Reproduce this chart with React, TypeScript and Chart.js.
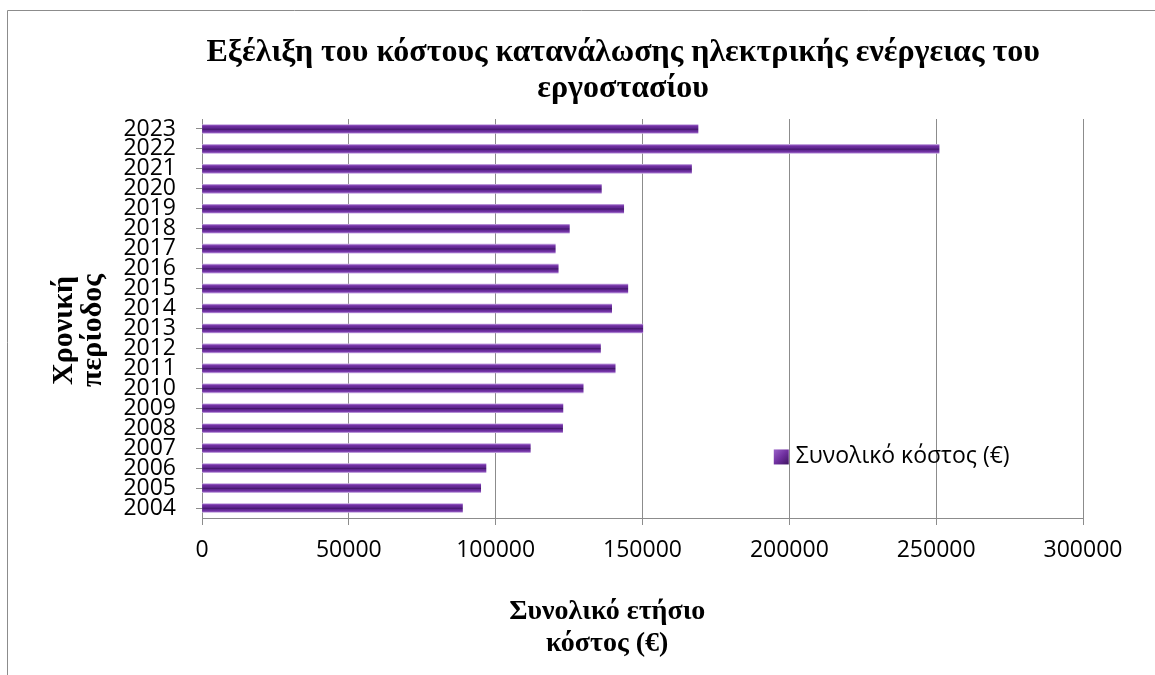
import React, { useEffect, useRef } from 'react';
import { Chart, registerables } from 'chart.js';

Chart.register(...registerables);

// ---- Data ----
const years = ['2004', '2005', '2006', '2007', '2008', '2009', '2010', '2011', '2012', '2013', '2014', '2015', '2016', '2017', '2018', '2019', '2020', '2021', '2022', '2023'];
const costs = [88700, 94900, 96700, 111800, 122800, 122900, 129800, 140700, 135700, 150100, 139500, 145000, 121300, 120300, 125100, 143600, 136000, 166700, 251000, 168900];
const seriesLabel = 'Συνολικό κόστος (€)';
const titleLines = ['Εξέλιξη του κόστους κατανάλωσης ηλεκτρικής ενέργειας του', 'εργοστασίου'];
const yTitleLines = ['Χρονική', 'περίοδος'];
const xTitleLines = ['Συνολικό ετήσιο', 'κόστος (€)'];
const xMin = 0;
const xMax = 300000;
const xStep = 50000;

const SERIF = '"Liberation Serif", "Times New Roman", serif';
const SANS = '"Open Sans", "Noto Sans", sans-serif';
const GRID = '#8c8c8c';

function makeBarGradient(c: CanvasRenderingContext2D, y0: number, y1: number) {
  const g = c.createLinearGradient(0, y0, 0, y1);
  g.addColorStop(0, '#c6aadf');
  g.addColorStop(0.1, '#8a4ebb');
  g.addColorStop(0.2, '#7030a0');
  g.addColorStop(0.42, '#5e2690');
  g.addColorStop(0.52, '#44166a');
  g.addColorStop(0.66, '#602892');
  g.addColorStop(0.85, '#7636a8');
  g.addColorStop(0.93, '#9a68c6');
  g.addColorStop(1, '#c6aadf');
  return g;
}

const decorPlugin = {
  id: 'decor',
  afterDraw(chart: any) {
    const c: CanvasRenderingContext2D = chart.ctx;
    const ca = chart.chartArea;
    const W = ca.right - ca.left;
    const H = ca.bottom - ca.top;
    c.save();
    // outer frame
    c.strokeStyle = GRID;
    c.lineWidth = 1;
    c.beginPath();
    c.moveTo(7.5, chart.height);
    c.lineTo(7.5, 10.5);
    c.lineTo(chart.width, 10.5);
    c.stroke();

    // main title
    c.fillStyle = '#000';
    c.font = `bold 32px ${SERIF}`;
    c.textAlign = 'center';
    c.textBaseline = 'alphabetic';
    const tx = ca.left + 0.478 * W;
    c.fillText(titleLines[0], tx, 61);
    c.fillText(titleLines[1], tx, 97);

    // y axis title (rotated)
    c.save();
    c.translate(0, ca.top + 0.53 * H);
    c.rotate(-Math.PI / 2);
    c.font = `bold 30px ${SERIF}`;
    c.textAlign = 'center';
    c.fillText(yTitleLines[0], 0, 72);
    c.fillText(yTitleLines[1], 0, 101);
    c.restore();

    // x axis title
    c.font = `bold 28px ${SERIF}`;
    c.textAlign = 'center';
    const xx = ca.left + 0.46 * W;
    c.fillText(xTitleLines[0], xx, ca.bottom + 101);
    c.fillText(xTitleLines[1], xx, ca.bottom + 133);

    // legend (inside plot area)
    const mx = ca.left + 0.649 * W;
    const my = ca.top + 0.847 * H;
    const sz = 15;
    const lg = c.createLinearGradient(mx, my - sz / 2, mx + sz, my + sz / 2);
    lg.addColorStop(0, '#9a62c8');
    lg.addColorStop(0.5, '#7030a0');
    lg.addColorStop(1, '#3e1460');
    c.fillStyle = lg;
    c.fillRect(mx, my - sz / 2, sz, sz);
    c.fillStyle = '#000';
    c.font = `23px ${SANS}`;
    c.textAlign = 'left';
    c.textBaseline = 'middle';
    c.fillText(seriesLabel, mx + sz + 7, my);
    c.restore();
  },
};

export default function App() {
  const ref = useRef<HTMLCanvasElement | null>(null);

  useEffect(() => {
    if (!ref.current) return;
    const chart = new Chart(ref.current, {
      type: 'bar',
      data: {
        labels: years,
        datasets: [
          {
            label: seriesLabel,
            data: costs,
            barThickness: 9,
            borderWidth: 0,
            backgroundColor: (ctx: any) => {
              const ch = ctx.chart;
              const ys = ch.scales && ch.scales.y;
              if (!ys || ctx.type !== 'data') return '#7030a0';
              const yc = ys.getPixelForValue(ctx.dataIndex);
              if (!Number.isFinite(yc)) return '#7030a0';
              return makeBarGradient(ch.ctx, yc - 4.5, yc + 4.5);
            },
          },
        ],
      },
      options: {
        indexAxis: 'y',
        responsive: false,
        animation: false,
        layout: { padding: { left: 0, top: 119, right: 72, bottom: 97 } },
        plugins: {
          legend: { display: false },
          title: { display: false },
          tooltip: { enabled: false },
        },
        scales: {
          x: {
            type: 'linear',
            min: xMin,
            max: xMax,
            afterFit: (s: any) => {
              s.height = 60;
            },
            ticks: {
              stepSize: xStep,
              color: '#000',
              padding: 12,
              font: { family: SANS, size: 23 },
              callback: (v: any) => String(v),
            },
            grid: { color: GRID, lineWidth: 1, tickLength: 7, drawTicks: true },
            border: { display: true, color: GRID, width: 1 },
          },
          y: {
            type: 'category',
            reverse: true,
            afterFit: (s: any) => {
              s.width = 202;
            },
            ticks: {
              autoSkip: false,
              color: '#000',
              padding: 20,
              font: { family: SANS, size: 23 },
            },
            grid: { display: true, drawOnChartArea: false, offset: false, color: GRID, tickLength: 6 },
            border: { display: true, color: GRID, width: 1 },
          },
        },
      },
      plugins: [decorPlugin],
    } as any);
    return () => chart.destroy();
  }, []);

  return (
    <div style={{ position: 'fixed', left: 0, top: 0, width: 1155, height: 675, background: '#fff' }}>
      <canvas ref={ref} width={1155} height={675} style={{ width: 1155, height: 675, display: 'block' }} />
    </div>
  );
}
